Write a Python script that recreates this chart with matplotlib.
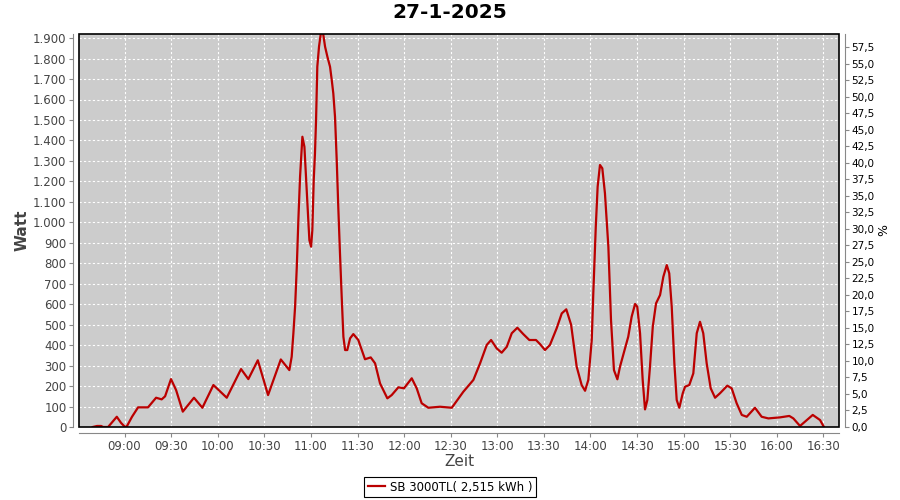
import matplotlib
matplotlib.use("Agg")
import matplotlib.pyplot as plt
import matplotlib.dates as mdates
import matplotlib.ticker as ticker
import matplotlib.patches as patches
import pandas as pd

# ----------------------------------------------------------------
# Daten

datum = "2025-01-27"
titel = "27-1-2025"
serie = "SB 3000TL( 2,515 kWh )"

zeit = ["08:39:30", "08:42:18", "08:44:54", "08:46:12", "08:49:24", "08:55:00",
        "08:57:45", "09:00:18", "09:01:36", "09:04:48", "09:08:42", "09:15:06",
        "09:20:18", "09:23:54", "09:26:06", "09:29:54", "09:33:12", "09:37:30",
        "09:44:42", "09:50:06", "09:57:12", "10:05:48", "10:15:00", "10:19:42",
        "10:25:48", "10:32:24", "10:40:36", "10:46:06", "10:47:36", "10:48:42",
        "10:49:48", "10:50:54", "10:51:54", "10:53:00", "10:54:30", "10:55:48",
        "10:56:48", "10:58:18", "10:59:00", "11:00:06", "11:00:54", "11:01:48",
        "11:02:36", "11:03:18", "11:04:06", "11:05:12", "11:06:30", "11:07:48",
        "11:09:06", "11:10:36", "11:12:18", "11:13:24", "11:14:24", "11:15:30",
        "11:16:36", "11:17:36", "11:18:42", "11:19:48", "11:20:54", "11:22:00",
        "11:23:24", "11:25:12", "11:27:18", "11:30:30", "11:34:48", "11:38:30",
        "11:41:18", "11:44:30", "11:49:12", "11:52:00", "11:56:18", "11:59:54",
        "12:04:54", "12:08:06", "12:11:18", "12:15:36", "12:23:06", "12:30:42",
        "12:38:06", "12:44:36", "12:48:54", "12:53:12", "12:56:00", "12:59:36",
        "13:02:48", "13:06:06", "13:09:18", "13:12:54", "13:16:42", "13:20:36",
        "13:24:54", "13:27:30", "13:30:42", "13:33:54", "13:38:12", "13:41:30",
        "13:44:24", "13:47:30", "13:51:06", "13:54:18", "13:56:30", "13:58:36",
        "14:00:48", "14:01:48", "14:03:24", "14:04:36", "14:06:06", "14:07:36",
        "14:09:18", "14:11:30", "14:13:12", "14:15:06", "14:17:18", "14:19:00",
        "14:22:12", "14:24:18", "14:26:30", "14:28:42", "14:30:06", "14:31:54",
        "14:33:36", "14:35:06", "14:36:36", "14:38:18", "14:40:06", "14:42:12",
        "14:44:48", "14:46:54", "14:49:06", "14:50:42", "14:52:18", "14:54:00",
        "14:55:30", "14:57:12", "14:59:24", "15:00:54", "15:03:36", "15:06:12",
        "15:08:24", "15:10:30", "15:12:36", "15:14:48", "15:17:24", "15:20:12",
        "15:23:24", "15:28:06", "15:30:54", "15:34:06", "15:37:24", "15:40:36",
        "15:45:54", "15:50:12", "15:54:30", "16:02:00", "16:08:00", "16:10:36",
        "16:14:54", "16:18:06", "16:23:06", "16:27:48", "16:30:18"]

watt = [0, 5, 5, 0, 0, 50,
        20, 0, 5, 50, 96, 96,
        143, 135, 150, 234, 180, 75,
        143, 94, 205, 143, 283, 234,
        326, 156, 330, 278, 343, 458,
        588, 783, 1011, 1223, 1418, 1369,
        1223, 1011, 913, 881, 962, 1207,
        1337, 1500, 1760, 1858, 1930, 1925,
        1858, 1809, 1760, 1695, 1630, 1516,
        1304, 1076, 849, 637, 441, 376,
        376, 433, 454, 425, 331, 340,
        311, 213, 140, 156, 194, 189,
        238, 189, 116, 94, 99, 94,
        172, 230, 311, 401, 425, 384,
        363, 392, 458, 485, 454, 425,
        425, 405, 376, 401, 482, 555,
        575, 500, 295, 205, 177, 230,
        425, 653, 978, 1174, 1280, 1264,
        1142, 881, 523, 278, 233, 295,
        384, 441, 539, 601, 588, 458,
        230, 86, 132, 295, 490, 604,
        645, 734, 791, 751, 588, 311,
        132, 94, 165, 197, 205, 262,
        458, 514, 458, 311, 189, 143,
        165, 202, 189, 116, 59, 50,
        94, 50, 42, 47, 54, 42,
        5, 26, 59, 34, 0]

t = pd.to_datetime([datum + " " + z for z in zeit])

# ----------------------------------------------------------------
# plot

fig = plt.figure(figsize=(9, 5), dpi=100)
ax = fig.add_axes([79/900, 73/500, 760/900, 393/500])
ax.set_facecolor('#cccccc')

ax.plot(t, watt, color='#bb0000', lw=1.6, label=serie, zorder=3)

ax.set_xlim(pd.Timestamp(datum + " 08:30:40"), pd.Timestamp(datum + " 16:40:00"))
ax.set_ylim(0, 1920)

ax.xaxis.set_major_locator(mdates.MinuteLocator(byminute=[0, 30]))
ax.xaxis.set_major_formatter(mdates.DateFormatter('%H:%M'))
ax.yaxis.set_major_locator(ticker.MultipleLocator(100))
ax.yaxis.set_major_formatter(ticker.FuncFormatter(
    lambda v, p: "{:,}".format(int(round(v))).replace(",", ".")))

ax.grid(True, color='white', ls=(0, (2, 2)), lw=0.8)
ax.set_axisbelow(True)

for s in ['top', 'right']:
    ax.spines[s].set_visible(False)
for s in ['left', 'bottom']:
    ax.spines[s].set_position(('outward', 4))
    ax.spines[s].set_color('#888888')
ax.tick_params(direction='out', length=3, pad=2, color='#888888',
               labelcolor='#444444', labelsize=8.5)

# zweite Achse (%)
ax2 = ax.twinx()
ax2.set_ylim(0, 59.5)
ax2.yaxis.set_major_locator(ticker.MultipleLocator(2.5))
ax2.yaxis.set_major_formatter(ticker.FuncFormatter(
    lambda v, p: "{:.1f}".format(v).replace(".", ",")))
for s in ['top', 'left', 'bottom']:
    ax2.spines[s].set_visible(False)
ax2.spines['right'].set_position(('outward', 4))
ax2.spines['right'].set_color('#888888')
ax2.tick_params(direction='out', length=3, pad=2, color='#888888',
                labelcolor='black', labelsize=7.5)
ax2.set_ylabel('%', fontsize=9, labelpad=2)

# schwarzer Rahmen
ax2.add_patch(patches.Rectangle((0, 0), 1, 1, transform=ax.transAxes, fill=False,
                                ec='black', lw=1.2, clip_on=False, zorder=5))

fig.text(0.5, 1 - 13/500, titel, ha='center', va='center', fontsize=14.5, weight='bold')
fig.text(22/900, 1 - 230/500, 'Watt', ha='center', va='center', rotation=90,
         fontsize=11, color='#444444', weight='bold')
fig.text(459/900, 1 - 461/500, 'Zeit', ha='center', va='center',
         fontsize=11, color='#444444')

leg = fig.legend(loc='center', bbox_to_anchor=(0.5, 1 - 487/500), fancybox=False,
                 edgecolor='black', framealpha=1, fontsize=8.5, handlelength=1.5,
                 borderpad=0.3, handletextpad=0.4)
leg.get_frame().set_linewidth(0.8)

plt.savefig('out.png', dpi=100)
